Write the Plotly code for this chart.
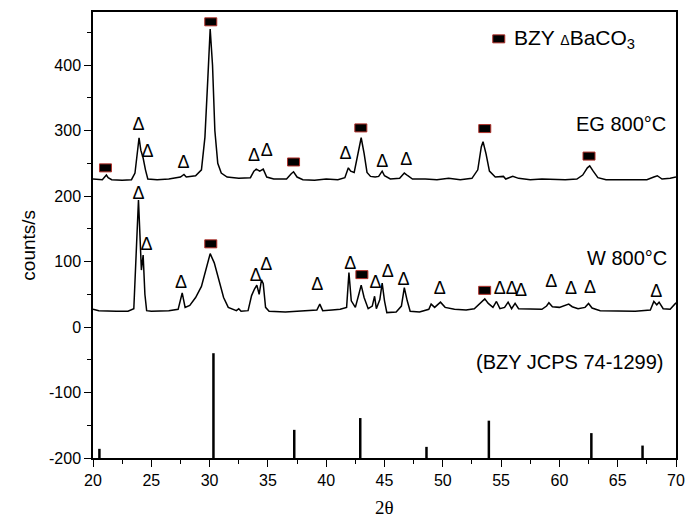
import plotly.graph_objects as go

# ---------------- data ----------------
eg_2theta = [20.0, 20.8, 21.0, 21.15, 21.3, 21.6, 22.5, 23.3, 23.6, 23.8, 23.95, 24.1, 24.3, 24.5, 24.7,
             25.5, 26.5, 27.5, 27.8, 28.0, 28.8, 29.3, 29.6, 29.85, 30.05, 30.25, 30.45, 30.7, 31.0, 31.5,
             32.5, 33.5, 33.8, 34.0, 34.3, 34.6, 34.9, 35.5, 36.6, 37.0, 37.2, 37.5, 38.0, 39.0, 40.0,
             41.0, 41.6, 41.9, 42.1, 42.4, 42.7, 43.0, 43.25, 43.5, 43.8, 44.2, 44.5, 44.8, 45.0, 45.5,
             46.3, 46.7, 47.0, 47.4, 48.5, 49.5, 50.5, 51.5, 52.5, 53.0, 53.3, 53.45, 53.7, 54.0, 54.5,
             55.2, 55.4, 56.0, 56.5, 57.5, 58.5, 59.5, 60.5, 61.5, 62.0, 62.4, 62.6, 62.9, 63.3, 64.0,
             66.0, 67.5, 68.1, 68.4, 68.8, 69.5, 70.0]
eg_counts = [226, 225, 229, 232, 228, 225, 224, 225, 235, 270, 289, 270, 258, 240, 226,
             225, 226, 229, 233, 229, 231, 240, 290, 380, 455, 400, 300, 250, 235, 229,
             227, 228, 238, 241, 238, 241, 229, 226, 226, 234, 237, 229, 225, 224, 226,
             225, 228, 243, 238, 236, 260, 289, 265, 236, 230, 229, 230, 238, 231, 226,
             227, 235, 231, 226, 226, 225, 227, 225, 227, 240, 275, 283, 265, 238, 229,
             230, 226, 230, 227, 225, 226, 225, 225, 226, 232, 243, 246, 238, 228, 225,
             225, 225, 229, 231, 226, 227, 229]

w_2theta = [20.0, 20.5, 22.0, 23.0, 23.5, 23.75, 23.9, 24.05, 24.15, 24.3, 24.45, 24.6, 25.0, 26.5,
            27.3, 27.65, 27.9, 28.3, 28.8, 29.3, 29.7, 30.05, 30.4, 30.8, 31.2, 31.6, 32.3, 32.5, 32.7,
            33.3, 33.6, 33.85, 34.05, 34.25, 34.45, 34.6, 34.8, 35.1, 36.5, 37.5, 38.5, 39.2, 39.45,
            39.7, 40.5, 41.2, 41.75, 41.95, 42.15, 42.5, 42.8, 43.0, 43.25, 43.6, 43.95, 44.15, 44.3,
            44.6, 44.8, 45.0, 45.2, 46.0, 46.45, 46.7, 46.95, 47.2, 48.0, 48.8, 49.0, 49.3, 49.8, 50.2,
            51.0, 52.0, 52.7, 53.3, 53.6, 53.9, 54.3, 54.6, 54.9, 55.3, 55.6, 55.9, 56.2, 56.5, 57.5,
            58.5, 58.9, 59.1, 59.4, 60.0, 60.8, 61.1, 61.6, 62.2, 62.5, 62.8, 63.5, 65.0, 66.5, 67.8,
            68.1, 68.35, 68.55, 68.9, 69.5, 70.0]
w_counts = [27, 25, 24, 24, 28, 120, 194, 130, 87, 110, 50, 25, 24, 25,
            27, 52, 30, 33, 45, 62, 90, 112, 98, 70, 45, 30, 25, 28, 24,
            25, 48, 58, 64, 50, 72, 66, 30, 24, 23, 24, 25, 26, 35,
            25, 26, 27, 30, 83, 40, 30, 50, 64, 45, 28, 32, 47, 28,
            42, 67, 40, 22, 23, 32, 60, 40, 24, 23, 27, 35, 30, 38, 30,
            27, 26, 28, 38, 43, 36, 30, 39, 28, 30, 38, 28, 36, 28, 27,
            27, 32, 37, 31, 30, 35, 31, 28, 30, 36, 29, 25, 24, 24, 26,
            39, 34, 38, 28, 27, 37]

ref_2theta = [20.55, 30.33, 37.26, 42.92, 48.6, 53.95, 62.74, 67.13]
ref_counts = [-186, -40, -157, -139, -183, -143, -162, -181]
ref_base = -200

# BZY peak marks (squares)
bzy_2theta = [21.07, 30.1, 37.2, 42.97, 53.6, 62.54, 30.1, 43.06, 53.59]
bzy_counts = [243, 466, 252, 304, 303, 261, 127, 80, 56]

# BaCO3 peak marks (triangles)
baco3_2theta = [23.9, 24.67, 27.77, 33.8, 34.9, 41.65, 44.8, 46.86,
                23.9, 24.6, 27.55, 33.96, 34.87, 39.23, 42.07, 44.24, 45.28, 46.63, 49.73,
                54.88, 55.92, 56.71, 59.3, 60.99, 62.62, 68.31]
baco3_counts = [307, 266, 250, 260, 268, 263, 251, 254,
                202, 125, 67, 77, 94, 63, 95, 67, 83, 71, 57,
                58, 58, 54, 68, 58, 59, 52]

x_ticks = [20, 25, 30, 35, 40, 45, 50, 55, 60, 65, 70]
y_ticks = [-200, -100, 0, 100, 200, 300, 400]
y_tick_labels = ["-200", "-100", "0", "100", "200", "300", "400"]

FONT = "Liberation Sans, Arial, sans-serif"

fig = go.Figure()

fig.add_trace(go.Scatter(x=eg_2theta, y=eg_counts, mode="lines",
                         line=dict(color="black", width=1.5), showlegend=False))
fig.add_trace(go.Scatter(x=w_2theta, y=w_counts, mode="lines",
                         line=dict(color="black", width=1.5), showlegend=False))

# reference sticks
sx, sy = [], []
for xv, yv in zip(ref_2theta, ref_counts):
    sx += [xv, xv, None]
    sy += [ref_base, yv, None]
fig.add_trace(go.Scatter(x=sx, y=sy, mode="lines",
                         line=dict(color="black", width=2.5), showlegend=False))

# triangles
fig.add_trace(go.Scatter(x=baco3_2theta, y=baco3_counts, mode="text",
                         text=["Δ"] * len(baco3_2theta), textposition="middle center",
                         textfont=dict(family=FONT, size=18, color="black"), showlegend=False))

shapes = []
for xv, yv in zip(bzy_2theta, bzy_counts):
    shapes.append(dict(type="rect", xref="x", yref="y", xsizemode="pixel", ysizemode="pixel",
                       xanchor=xv, yanchor=yv, x0=-6, x1=6, y0=-4, y1=4,
                       fillcolor="black", line=dict(color="#b0302a", width=1)))
# legend square
shapes.append(dict(type="rect", xref="x", yref="y", xsizemode="pixel", ysizemode="pixel",
                   xanchor=54.8, yanchor=440, x0=-6, x1=6, y0=-4, y1=4,
                   fillcolor="black", line=dict(color="#b0302a", width=1)))

annotations = [
    dict(x=55.9, y=440, xref="x", yref="y", xanchor="left", yanchor="middle", showarrow=False,
         text="BZY <span style='font-size:14px'>Δ</span>BaCO<sub>3</sub>",
         font=dict(family=FONT, size=21, color="black")),
    dict(x=69.3, y=310, xref="x", yref="y", xanchor="right", yanchor="middle", showarrow=False,
         text="EG 800°C", font=dict(family=FONT, size=20, color="black")),
    dict(x=69.4, y=106, xref="x", yref="y", xanchor="right", yanchor="middle", showarrow=False,
         text="W 800°C", font=dict(family=FONT, size=20, color="black")),
    dict(x=69.1, y=-54, xref="x", yref="y", xanchor="right", yanchor="middle", showarrow=False,
         text="(BZY JCPS 74-1299)", font=dict(family=FONT, size=20, color="black")),
    dict(x=-0.11, y=0.478, xref="paper", yref="paper", xanchor="center", yanchor="middle",
         showarrow=False, textangle=-90, text="counts/s",
         font=dict(family=FONT, size=19, color="black")),
    dict(x=0.5, y=-0.112, xref="paper", yref="paper", xanchor="center", yanchor="middle",
         showarrow=False, text="2θ",
         font=dict(family="Liberation Serif, Times New Roman, serif", size=19, color="black")),
]

fig.update_layout(
    width=693, height=522,
    margin=dict(l=93, r=8, t=12, b=64),
    paper_bgcolor="white", plot_bgcolor="white",
    shapes=shapes, annotations=annotations,
    font=dict(family=FONT, size=16, color="black"),
)
fig.update_xaxes(range=[20, 70], tickvals=x_ticks, ticks="outside", ticklen=7, tickwidth=1.2,
                 tickcolor="black", showline=True, linecolor="black", linewidth=1.5, mirror=True,
                 showgrid=False, zeroline=False, tickfont=dict(family=FONT, size=16, color="black"),
                 minor=dict(dtick=2.5, tick0=20, ticks="outside", ticklen=4, tickcolor="black", showgrid=False))
fig.update_yaxes(range=[-200, 481], tickvals=y_ticks, ticktext=y_tick_labels, ticks="outside",
                 ticklen=7, tickwidth=1.2,
                 tickcolor="black", showline=True, linecolor="black", linewidth=1.5, mirror=True,
                 showgrid=False, zeroline=False, tickfont=dict(family=FONT, size=16, color="black"),
                 minor=dict(dtick=50, tick0=0, ticks="outside", ticklen=4, tickcolor="black", showgrid=False))

fig.write_html("out.html")
